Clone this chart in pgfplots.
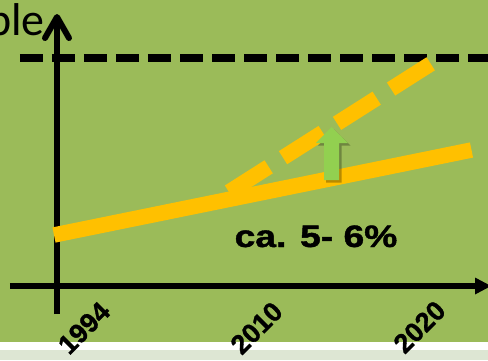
\documentclass[border=0pt]{standalone}
\usepackage{pgfplots}
\pgfplotsset{compat=1.18}
\usepackage{fontspec}
\setmainfont{Liberation Sans}
\newfontfamily\heavy[FakeBold=1.2]{Liberation Sans Bold}
\newfontfamily\carlito{Carlito}
\definecolor{bg}{HTML}{9BBB59}
\definecolor{orng}{HTML}{FFC000}
\definecolor{grn}{HTML}{92D050}
\definecolor{lite}{HTML}{DDE6D3}
\begin{document}
\begin{tikzpicture}
\begin{axis}[at={(0,0)},anchor=south west,scale only axis,width=488pt,height=360pt,
  xmin=0,xmax=488,ymin=0,ymax=360,y dir=reverse,hide axis,clip=false]
% background strips
\addplot[draw=none,fill=bg] coordinates {(0,0)(488,0)(488,342)(0,342)} -- cycle;
\addplot[draw=none,fill=white] coordinates {(0,342)(488,342)(488,350)(0,350)} -- cycle;
\addplot[draw=none,fill=lite] coordinates {(0,350)(488,350)(488,360)(0,360)} -- cycle;
% target level (dashed black)
\addplot[black,line width=8pt,dash pattern=on 23pt off 9pt] coordinates {(20,57.5)(492,57.5)};
% axes
\addplot[black,line width=6pt] coordinates {(57,314)(57,18)};
\addplot[black,line width=6pt,line cap=round,line join=round] coordinates {(45,38)(57,17)(69,38)};
\addplot[black,line width=6pt] coordinates {(10,286)(478,286)};
\addplot[draw=none,fill=black] coordinates {(475,277.5)(491,286)(475,294.5)} -- cycle;
% trend lines
\addplot[orng,line width=15.5pt] coordinates {(54,235)(471.5,150)};
\addplot[orng,line width=15.5pt,dash pattern=on 47pt off 17pt] coordinates {(229,192)(432,63)};
% green arrow with shadow
\addplot[draw=none,fill=black,opacity=0.28] coordinates {(326,182.5)(341.5,182.5)(341.5,145.5)(350.5,145.5)(334,129.5)(318,145.5)(326,145.5)} -- cycle;
\addplot[draw=none,fill=grn] coordinates {(324,180)(339,180)(339,143)(348,143)(331.5,127)(316,143)(324,143)} -- cycle;
% texts
\node[anchor=base] at (axis cs:316,247) {\heavy\fontsize{31}{31}\selectfont\scalebox{1.2}[1]{ca. 5- 6\%}};
\node[rotate=45,font=\heavy\fontsize{27}{27}\selectfont] at (axis cs:84,328) {1994};
\node[rotate=45,font=\heavy\fontsize{27}{27}\selectfont] at (axis cs:256.5,328) {2010};
\node[rotate=45,font=\heavy\fontsize{27}{27}\selectfont] at (axis cs:419.5,327) {2020};
\node[anchor=base east,inner sep=0pt] at (axis cs:45,35) {\carlito\fontsize{46}{46}\selectfont ble};
\end{axis}
\pgfresetboundingbox
\useasboundingbox (0,0) rectangle (488pt,360pt);
\end{tikzpicture}
\end{document}
